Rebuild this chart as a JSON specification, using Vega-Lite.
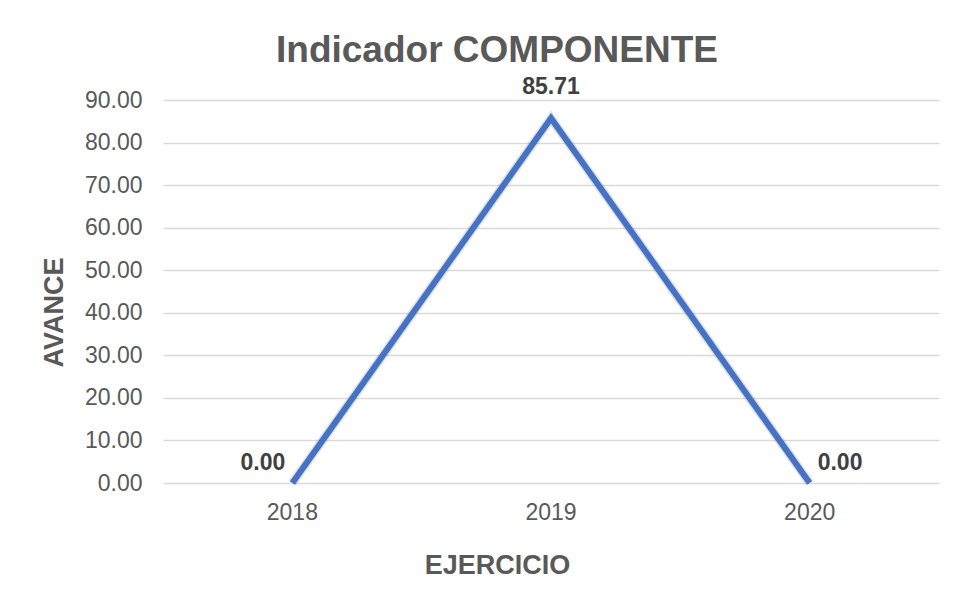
{
  "$schema": "https://vega.github.io/schema/vega-lite/v6.json",
  "width": 776,
  "height": 383,
  "autosize": {"type": "none"},
  "padding": {"left": 163, "top": 100, "right": 20, "bottom": 114},
  "background": "white",
  "config": {
    "view": {"stroke": null},
    "font": "Liberation Sans"
  },
  "title": {
    "text": "Indicador COMPONENTE",
    "fontSize": 37,
    "fontWeight": "bold",
    "color": "#595959",
    "font": "Liberation Sans",
    "anchor": "middle",
    "dx": -54,
    "dy": 43,
    "baseline": "alphabetic",
    "offset": 20
  },
  "data": {
    "values": [
      {"ejercicio": "2018", "avance": 0.0},
      {"ejercicio": "2019", "avance": 85.71},
      {"ejercicio": "2020", "avance": 0.0}
    ]
  },
  "encoding": {
    "x": {
      "field": "ejercicio",
      "type": "ordinal",
      "scale": {"type": "band", "paddingInner": 0, "paddingOuter": 0},
      "axis": {
        "title": "EJERCICIO",
        "labelAngle": 0,
        "labelFontSize": 23,
        "labelColor": "#595959",
        "labelPadding": 18,
        "ticks": false,
        "domain": false,
        "titleFontSize": 27,
        "titleFontWeight": "bold",
        "titleColor": "#595959",
        "titleX": 334,
        "titleY": 90,
        "titleBaseline": "alphabetic"
      }
    },
    "y": {
      "field": "avance",
      "type": "quantitative",
      "scale": {"domain": [0, 90], "nice": false},
      "axis": {
        "title": "AVANCE",
        "values": [0, 10, 20, 30, 40, 50, 60, 70, 80, 90],
        "format": ".2f",
        "labelFontSize": 23,
        "labelColor": "#595959",
        "labelPadding": 21,
        "ticks": false,
        "domain": false,
        "gridColor": "#D9D9D9",
        "gridWidth": 1.5,
        "titleFontSize": 27,
        "titleFontWeight": "bold",
        "titleColor": "#595959",
        "titleX": -101,
        "titleY": 212,
        "titleBaseline": "alphabetic"
      }
    }
  },
  "layer": [
    {
      "mark": {"type": "line", "color": "#7F7F7F", "strokeWidth": 9, "opacity": 0.25, "strokeJoin": "miter"}
    },
    {
      "mark": {"type": "line", "color": "#4472C4", "strokeWidth": 6, "strokeJoin": "miter"}
    },
    {
      "transform": [{"filter": "datum.ejercicio == '2018'"}],
      "mark": {"type": "text", "fontSize": 23, "fontWeight": "bold", "color": "#404040", "align": "right", "baseline": "alphabetic", "dx": -7, "dy": -13},
      "encoding": {"text": {"field": "avance", "type": "quantitative", "format": ".2f"}}
    },
    {
      "transform": [{"filter": "datum.ejercicio == '2019'"}],
      "mark": {"type": "text", "fontSize": 23, "fontWeight": "bold", "color": "#404040", "align": "center", "baseline": "alphabetic", "dy": -24},
      "encoding": {"text": {"field": "avance", "type": "quantitative", "format": ".2f"}}
    },
    {
      "transform": [{"filter": "datum.ejercicio == '2020'"}],
      "mark": {"type": "text", "fontSize": 23, "fontWeight": "bold", "color": "#404040", "align": "left", "baseline": "alphabetic", "dx": 8, "dy": -13},
      "encoding": {"text": {"field": "avance", "type": "quantitative", "format": ".2f"}}
    }
  ]
}
